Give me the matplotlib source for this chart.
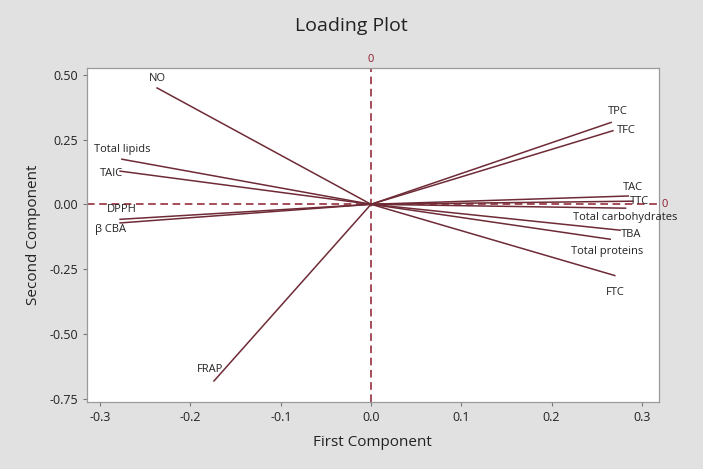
import matplotlib.pyplot as plt

# loadings
variables = ['NO', 'Total lipids', 'TAIC', 'DPPH', 'β CBA', 'FRAP',
             'TPC', 'TFC', 'TAC', 'TTC', 'Total carbohydrates', 'TBA',
             'Total proteins', 'FTC']
first_comp = [-0.237, -0.276, -0.278, -0.278, -0.278, -0.174,
              0.266, 0.268, 0.285, 0.290, 0.282, 0.276, 0.265, 0.270]
second_comp = [0.449, 0.174, 0.128, -0.058, -0.072, -0.682,
               0.316, 0.284, 0.032, 0.012, -0.015, -0.100, -0.135, -0.275]

# label offsets (points) and alignment
label_pos = {
    'NO': (0, 7, 'center'),
    'Total lipids': (0, 7, 'center'),
    'TAIC': (-6, -2, 'center'),
    'DPPH': (1, 7, 'center'),
    'β CBA': (-7, -5, 'center'),
    'FRAP': (-3, 8, 'center'),
    'TPC': (5, 8, 'center'),
    'TFC': (3, 0, 'left'),
    'TAC': (3, 6, 'center'),
    'TTC': (5, 0, 'center'),
    'Total carbohydrates': (0, -7, 'center'),
    'TBA': (8, -3, 'center'),
    'Total proteins': (-2, -9, 'center'),
    'FTC': (0, -12, 'center'),
}

line_color = '#6e2b36'
ref_color = '#8c1c2c'
plt.rcParams['font.family'] = ['Open Sans', 'DejaVu Sans']

fig = plt.figure(figsize=(7.03, 4.69), dpi=100, facecolor='#e1e1e1')
ax = fig.add_axes([0.1233, 0.1429, 0.8141, 0.7121])
ax.set_facecolor('white')

ax.axhline(0, color=ref_color, lw=1.1, ls=(0, (5, 3)), zorder=1)
ax.axvline(0, color=ref_color, lw=1.1, ls=(0, (5, 3)), zorder=1)

for name, x, y in zip(variables, first_comp, second_comp):
    ax.plot([0, x], [0, y], color=line_color, lw=1.1, zorder=2)
    dx, dy, ha = label_pos[name]
    ax.annotate(name, (x, y), xytext=(dx, dy), textcoords='offset points',
                ha=ha, va='center', fontsize=8, color='#222222')

ax.set_xlim(-0.315, 0.319)
ax.set_ylim(-0.763, 0.526)
ax.set_xticks([-0.3, -0.2, -0.1, 0.0, 0.1, 0.2, 0.3])
ax.set_yticks([0.5, 0.25, 0.0, -0.25, -0.5, -0.75])
ax.set_xticklabels(['-0.3', '-0.2', '-0.1', '0.0', '0.1', '0.2', '0.3'])
ax.set_yticklabels(['0.50', '0.25', '0.00', '-0.25', '-0.50', '-0.75'])
ax.tick_params(labelsize=9, length=3, width=0.8, color='#777777', labelcolor='#222222')
for sp in ax.spines.values():
    sp.set_color('#9a9a9a')
    sp.set_linewidth(0.9)

# reference line labels
ax.text(0, 1.01, '0', transform=ax.get_xaxis_transform(), ha='center', va='bottom',
        fontsize=8, color=ref_color)
ax.text(1.005, 0, '0', transform=ax.get_yaxis_transform(), ha='left', va='center',
        fontsize=8, color=ref_color)

ax.set_xlabel('First Component', fontsize=11, color='#222222', labelpad=8)
ax.set_ylabel('Second Component', fontsize=11, color='#222222', labelpad=6)
fig.text(0.5, 0.945, 'Loading Plot', ha='center', va='center', fontsize=14, color='#222222')

fig.savefig('out.png', dpi=100, facecolor=fig.get_facecolor())
